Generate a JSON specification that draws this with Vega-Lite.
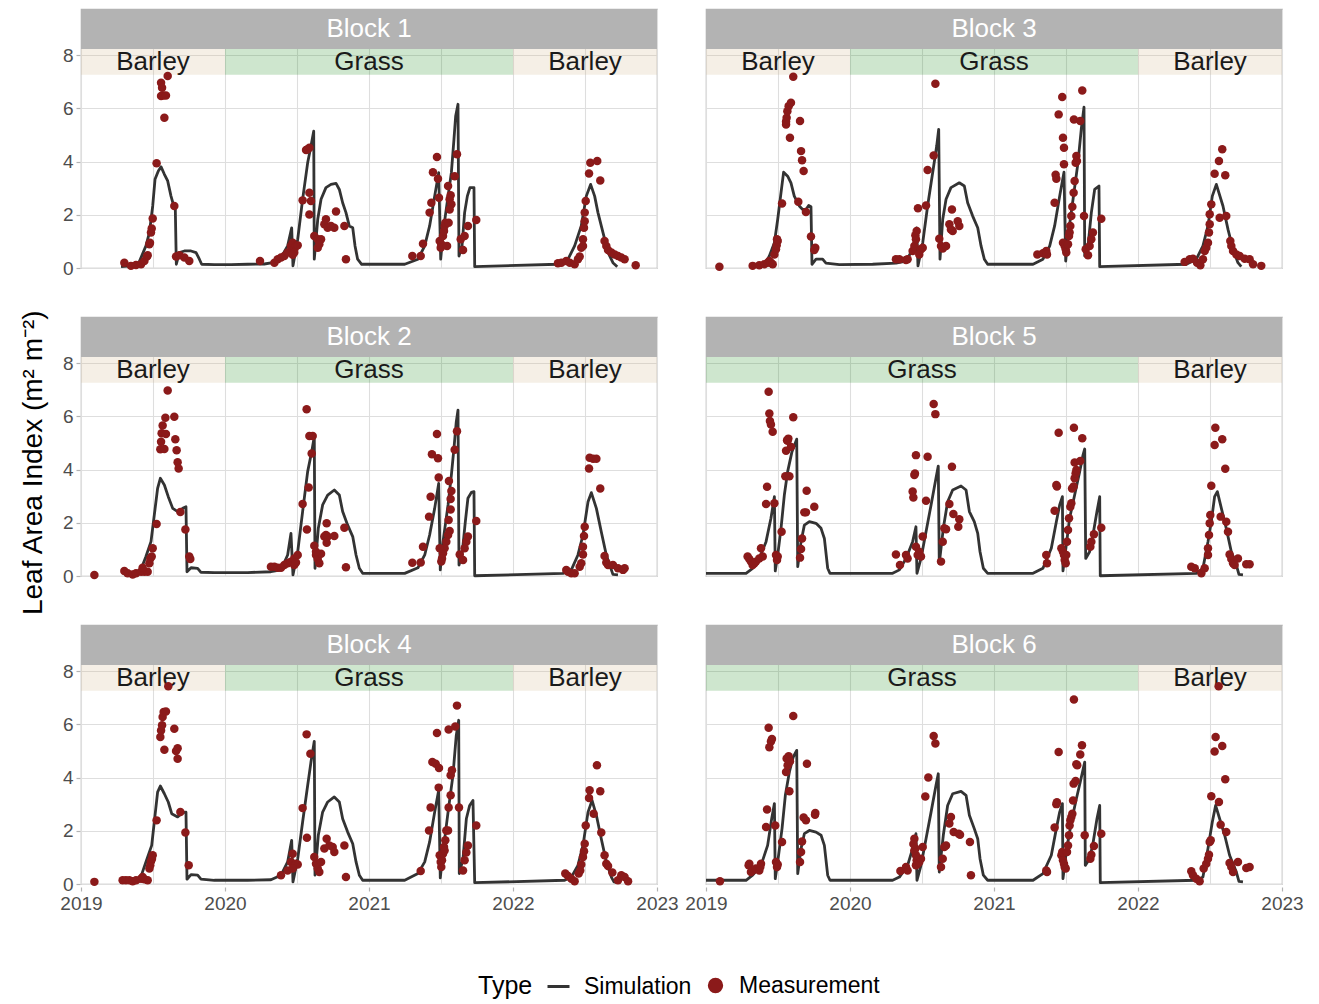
{
"$schema":"https://vega.github.io/schema/vega-lite/v6.json",
"padding":{"left":19,"top":8,"right":5,"bottom":5},
"background":"white",
"title":{"text":"Leaf Area Index (m² m⁻²)","orient":"left","anchor":"middle","dx":41,"fontSize":28,"fontWeight":"normal","font":"Liberation Sans","color":"#000000","offset":12},
"data":{"values":[
{"block":"Block 1","kind":"band","crop":"Barley","start":2019,"end":2020},
{"block":"Block 1","kind":"band","crop":"Grass","start":2020,"end":2022},
{"block":"Block 1","kind":"band","crop":"Barley","start":2022,"end":2023},
{"block":"Block 2","kind":"band","crop":"Barley","start":2019,"end":2020},
{"block":"Block 2","kind":"band","crop":"Grass","start":2020,"end":2022},
{"block":"Block 2","kind":"band","crop":"Barley","start":2022,"end":2023},
{"block":"Block 3","kind":"band","crop":"Barley","start":2019,"end":2020},
{"block":"Block 3","kind":"band","crop":"Grass","start":2020,"end":2022},
{"block":"Block 3","kind":"band","crop":"Barley","start":2022,"end":2023},
{"block":"Block 4","kind":"band","crop":"Barley","start":2019,"end":2020},
{"block":"Block 4","kind":"band","crop":"Grass","start":2020,"end":2022},
{"block":"Block 4","kind":"band","crop":"Barley","start":2022,"end":2023},
{"block":"Block 5","kind":"band","crop":"Grass","start":2019,"end":2022},
{"block":"Block 5","kind":"band","crop":"Barley","start":2022,"end":2023},
{"block":"Block 6","kind":"band","crop":"Grass","start":2019,"end":2022},
{"block":"Block 6","kind":"band","crop":"Barley","start":2022,"end":2023},
{"block":"Block 1","kind":"strip"},{"block":"Block 2","kind":"strip"},{"block":"Block 3","kind":"strip"},
{"block":"Block 4","kind":"strip"},{"block":"Block 5","kind":"strip"},{"block":"Block 6","kind":"strip"},

{"block":"Block 1","year":2019.278,"sim":0.05},{"block":"Block 1","year":2019.394,"sim":0.10},{"block":"Block 1","year":2019.451,"sim":0.83},{"block":"Block 1","year":2019.475,"sim":1.33},{"block":"Block 1","year":2019.498,"sim":2.33},{"block":"Block 1","year":2019.514,"sim":3.33},{"block":"Block 1","year":2019.537,"sim":3.64},{"block":"Block 1","year":2019.556,"sim":3.80},{"block":"Block 1","year":2019.579,"sim":3.52},{"block":"Block 1","year":2019.602,"sim":3.27},{"block":"Block 1","year":2019.625,"sim":2.70},{"block":"Block 1","year":2019.644,"sim":2.33},{"block":"Block 1","year":2019.655,"sim":2.20},{"block":"Block 1","year":2019.662,"sim":0.14},{"block":"Block 1","year":2019.683,"sim":0.58},{"block":"Block 1","year":2019.718,"sim":0.64},{"block":"Block 1","year":2019.764,"sim":0.64},{"block":"Block 1","year":2019.799,"sim":0.58},{"block":"Block 1","year":2019.822,"sim":0.33},{"block":"Block 1","year":2019.838,"sim":0.14},{"block":"Block 1","year":2019.926,"sim":0.13},{"block":"Block 1","year":2020.042,"sim":0.13},{"block":"Block 1","year":2020.157,"sim":0.14},{"block":"Block 1","year":2020.273,"sim":0.15},{"block":"Block 1","year":2020.331,"sim":0.20},{"block":"Block 1","year":2020.389,"sim":0.39},{"block":"Block 1","year":2020.435,"sim":0.83},{"block":"Block 1","year":2020.463,"sim":1.51},{"block":"Block 1","year":2020.472,"sim":0.08},{"block":"Block 1","year":2020.505,"sim":1.08},{"block":"Block 1","year":2020.539,"sim":2.58},{"block":"Block 1","year":2020.574,"sim":3.95},{"block":"Block 1","year":2020.597,"sim":4.58},{"block":"Block 1","year":2020.616,"sim":5.14},{"block":"Block 1","year":2020.620,"sim":0.33},{"block":"Block 1","year":2020.644,"sim":1.83},{"block":"Block 1","year":2020.667,"sim":2.58},{"block":"Block 1","year":2020.701,"sim":3.02},{"block":"Block 1","year":2020.736,"sim":3.14},{"block":"Block 1","year":2020.771,"sim":3.18},{"block":"Block 1","year":2020.794,"sim":2.95},{"block":"Block 1","year":2020.817,"sim":2.45},{"block":"Block 1","year":2020.840,"sim":2.08},{"block":"Block 1","year":2020.863,"sim":1.58},{"block":"Block 1","year":2020.887,"sim":1.51},{"block":"Block 1","year":2020.903,"sim":0.83},{"block":"Block 1","year":2020.921,"sim":0.33},{"block":"Block 1","year":2020.949,"sim":0.14},{"block":"Block 1","year":2021.109,"sim":0.14},{"block":"Block 1","year":2021.248,"sim":0.14},{"block":"Block 1","year":2021.340,"sim":0.33},{"block":"Block 1","year":2021.387,"sim":0.83},{"block":"Block 1","year":2021.421,"sim":1.58},{"block":"Block 1","year":2021.456,"sim":2.70},{"block":"Block 1","year":2021.484,"sim":3.58},{"block":"Block 1","year":2021.498,"sim":0.33},{"block":"Block 1","year":2021.514,"sim":1.33},{"block":"Block 1","year":2021.549,"sim":2.70},{"block":"Block 1","year":2021.572,"sim":3.58},{"block":"Block 1","year":2021.590,"sim":4.83},{"block":"Block 1","year":2021.602,"sim":5.71},{"block":"Block 1","year":2021.618,"sim":6.15},{"block":"Block 1","year":2021.625,"sim":0.45},{"block":"Block 1","year":2021.646,"sim":0.83},{"block":"Block 1","year":2021.664,"sim":2.08},{"block":"Block 1","year":2021.683,"sim":2.70},{"block":"Block 1","year":2021.701,"sim":3.02},{"block":"Block 1","year":2021.729,"sim":3.02},{"block":"Block 1","year":2021.734,"sim":0.05},{"block":"Block 1","year":2022.312,"sim":0.14},{"block":"Block 1","year":2022.382,"sim":0.33},{"block":"Block 1","year":2022.428,"sim":0.83},{"block":"Block 1","year":2022.474,"sim":1.58},{"block":"Block 1","year":2022.509,"sim":2.70},{"block":"Block 1","year":2022.539,"sim":3.14},{"block":"Block 1","year":2022.567,"sim":2.70},{"block":"Block 1","year":2022.590,"sim":2.08},{"block":"Block 1","year":2022.625,"sim":1.33},{"block":"Block 1","year":2022.660,"sim":0.58},{"block":"Block 1","year":2022.694,"sim":0.20},{"block":"Block 1","year":2022.724,"sim":0.05},

{"block":"Block 1","year":2019.301,"obs":0.2},{"block":"Block 1","year":2019.347,"obs":0.08},{"block":"Block 1","year":2019.382,"obs":0.11},{"block":"Block 1","year":2019.417,"obs":0.14},{"block":"Block 1","year":2019.44,"obs":0.26},{"block":"Block 1","year":2019.458,"obs":0.43},{"block":"Block 1","year":2019.463,"obs":0.48},{"block":"Block 1","year":2019.475,"obs":0.89},{"block":"Block 1","year":2019.479,"obs":0.95},{"block":"Block 1","year":2019.486,"obs":1.33},{"block":"Block 1","year":2019.491,"obs":1.48},{"block":"Block 1","year":2019.498,"obs":1.86},{"block":"Block 1","year":2019.525,"obs":3.93},{"block":"Block 1","year":2019.556,"obs":6.46},{"block":"Block 1","year":2019.556,"obs":6.96},{"block":"Block 1","year":2019.563,"obs":6.77},{"block":"Block 1","year":2019.572,"obs":6.48},{"block":"Block 1","year":2019.59,"obs":6.48},{"block":"Block 1","year":2019.579,"obs":5.64},{"block":"Block 1","year":2019.602,"obs":7.21},{"block":"Block 1","year":2019.648,"obs":2.33},{"block":"Block 1","year":2019.66,"obs":0.43},{"block":"Block 1","year":2019.683,"obs":0.48},{"block":"Block 1","year":2019.718,"obs":0.39},{"block":"Block 1","year":2019.752,"obs":0.26},
{"block":"Block 1","year":2020.243,"obs":0.26},{"block":"Block 1","year":2020.343,"obs":0.2},{"block":"Block 1","year":2020.366,"obs":0.33},{"block":"Block 1","year":2020.389,"obs":0.39},{"block":"Block 1","year":2020.412,"obs":0.45},{"block":"Block 1","year":2020.435,"obs":0.58},{"block":"Block 1","year":2020.458,"obs":0.83},{"block":"Block 1","year":2020.47,"obs":0.95},{"block":"Block 1","year":2020.481,"obs":0.7},{"block":"Block 1","year":2020.493,"obs":0.83},{"block":"Block 1","year":2020.505,"obs":0.85},{"block":"Block 1","year":2020.481,"obs":0.58},{"block":"Block 1","year":2020.47,"obs":0.5},{"block":"Block 1","year":2020.563,"obs":4.43},{"block":"Block 1","year":2020.586,"obs":4.52},{"block":"Block 1","year":2020.574,"obs":4.46},{"block":"Block 1","year":2020.539,"obs":2.54},{"block":"Block 1","year":2020.586,"obs":2.83},{"block":"Block 1","year":2020.597,"obs":2.52},{"block":"Block 1","year":2020.586,"obs":2.01},{"block":"Block 1","year":2020.62,"obs":1.2},{"block":"Block 1","year":2020.644,"obs":1.08},{"block":"Block 1","year":2020.667,"obs":1.08},{"block":"Block 1","year":2020.644,"obs":0.76},{"block":"Block 1","year":2020.655,"obs":0.89},{"block":"Block 1","year":2020.701,"obs":1.83},{"block":"Block 1","year":2020.69,"obs":1.64},{"block":"Block 1","year":2020.713,"obs":1.51},{"block":"Block 1","year":2020.759,"obs":1.51},{"block":"Block 1","year":2020.736,"obs":1.58},{"block":"Block 1","year":2020.771,"obs":2.12},{"block":"Block 1","year":2020.829,"obs":1.58},{"block":"Block 1","year":2020.84,"obs":0.33},
{"block":"Block 1","year":2021.301,"obs":0.45},{"block":"Block 1","year":2021.359,"obs":0.45},{"block":"Block 1","year":2021.375,"obs":0.91},{"block":"Block 1","year":2021.421,"obs":2.08},{"block":"Block 1","year":2021.433,"obs":2.45},{"block":"Block 1","year":2021.444,"obs":3.6},{"block":"Block 1","year":2021.472,"obs":4.17},{"block":"Block 1","year":2021.479,"obs":3.35},{"block":"Block 1","year":2021.486,"obs":2.64},{"block":"Block 1","year":2021.491,"obs":1.01},{"block":"Block 1","year":2021.502,"obs":0.89},{"block":"Block 1","year":2021.498,"obs":0.76},{"block":"Block 1","year":2021.514,"obs":1.2},{"block":"Block 1","year":2021.521,"obs":1.39},{"block":"Block 1","year":2021.525,"obs":1.58},{"block":"Block 1","year":2021.53,"obs":1.7},{"block":"Block 1","year":2021.549,"obs":3.08},{"block":"Block 1","year":2021.56,"obs":2.58},{"block":"Block 1","year":2021.567,"obs":2.73},{"block":"Block 1","year":2021.572,"obs":2.39},{"block":"Block 1","year":2021.56,"obs":2.2},{"block":"Block 1","year":2021.553,"obs":1.7},{"block":"Block 1","year":2021.542,"obs":0.83},{"block":"Block 1","year":2021.595,"obs":3.45},{"block":"Block 1","year":2021.611,"obs":4.27},{"block":"Block 1","year":2021.637,"obs":1.08},{"block":"Block 1","year":2021.653,"obs":0.68},{"block":"Block 1","year":2021.664,"obs":1.2},{"block":"Block 1","year":2021.687,"obs":1.58},{"block":"Block 1","year":2021.745,"obs":1.8},
{"block":"Block 1","year":2022.312,"obs":0.18},{"block":"Block 1","year":2022.336,"obs":0.2},{"block":"Block 1","year":2022.37,"obs":0.26},{"block":"Block 1","year":2022.394,"obs":0.2},{"block":"Block 1","year":2022.428,"obs":0.14},{"block":"Block 1","year":2022.451,"obs":0.33},{"block":"Block 1","year":2022.463,"obs":0.43},{"block":"Block 1","year":2022.474,"obs":0.76},{"block":"Block 1","year":2022.486,"obs":1.08},{"block":"Block 1","year":2022.486,"obs":0.83},{"block":"Block 1","year":2022.493,"obs":1.51},{"block":"Block 1","year":2022.498,"obs":1.76},{"block":"Block 1","year":2022.498,"obs":2.08},{"block":"Block 1","year":2022.505,"obs":2.52},{"block":"Block 1","year":2022.528,"obs":3.55},{"block":"Block 1","year":2022.537,"obs":3.95},{"block":"Block 1","year":2022.585,"obs":4.02},{"block":"Block 1","year":2022.606,"obs":3.29},{"block":"Block 1","year":2022.636,"obs":1.01},{"block":"Block 1","year":2022.648,"obs":0.83},{"block":"Block 1","year":2022.66,"obs":0.68},{"block":"Block 1","year":2022.683,"obs":0.58},{"block":"Block 1","year":2022.706,"obs":0.51},{"block":"Block 1","year":2022.729,"obs":0.45},{"block":"Block 1","year":2022.752,"obs":0.39},{"block":"Block 1","year":2022.775,"obs":0.33},{"block":"Block 1","year":2022.852,"obs":0.1},

{"block":"Block 3","year":2019.301,"sim":0.05},{"block":"Block 3","year":2019.405,"sim":0.10},{"block":"Block 3","year":2019.440,"sim":0.45},{"block":"Block 3","year":2019.475,"sim":0.95},{"block":"Block 3","year":2019.498,"sim":1.83},{"block":"Block 3","year":2019.521,"sim":2.83},{"block":"Block 3","year":2019.539,"sim":3.60},{"block":"Block 3","year":2019.567,"sim":3.45},{"block":"Block 3","year":2019.590,"sim":3.20},{"block":"Block 3","year":2019.613,"sim":2.70},{"block":"Block 3","year":2019.648,"sim":2.33},{"block":"Block 3","year":2019.671,"sim":2.20},{"block":"Block 3","year":2019.694,"sim":2.20},{"block":"Block 3","year":2019.713,"sim":2.35},{"block":"Block 3","year":2019.729,"sim":2.30},{"block":"Block 3","year":2019.736,"sim":0.14},{"block":"Block 3","year":2019.764,"sim":0.33},{"block":"Block 3","year":2019.810,"sim":0.33},{"block":"Block 3","year":2019.833,"sim":0.18},{"block":"Block 3","year":2019.926,"sim":0.13},{"block":"Block 3","year":2020.157,"sim":0.14},{"block":"Block 3","year":2020.319,"sim":0.18},{"block":"Block 3","year":2020.389,"sim":0.26},{"block":"Block 3","year":2020.435,"sim":0.70},{"block":"Block 3","year":2020.463,"sim":1.51},{"block":"Block 3","year":2020.472,"sim":0.08},{"block":"Block 3","year":2020.505,"sim":0.95},{"block":"Block 3","year":2020.539,"sim":2.33},{"block":"Block 3","year":2020.574,"sim":3.58},{"block":"Block 3","year":2020.602,"sim":4.58},{"block":"Block 3","year":2020.616,"sim":5.21},{"block":"Block 3","year":2020.625,"sim":0.33},{"block":"Block 3","year":2020.644,"sim":1.83},{"block":"Block 3","year":2020.667,"sim":2.58},{"block":"Block 3","year":2020.701,"sim":3.02},{"block":"Block 3","year":2020.759,"sim":3.20},{"block":"Block 3","year":2020.794,"sim":3.08},{"block":"Block 3","year":2020.817,"sim":2.45},{"block":"Block 3","year":2020.852,"sim":1.95},{"block":"Block 3","year":2020.887,"sim":1.51},{"block":"Block 3","year":2020.910,"sim":0.83},{"block":"Block 3","year":2020.933,"sim":0.33},{"block":"Block 3","year":2020.956,"sim":0.14},{"block":"Block 3","year":2021.109,"sim":0.14},{"block":"Block 3","year":2021.271,"sim":0.14},{"block":"Block 3","year":2021.340,"sim":0.33},{"block":"Block 3","year":2021.387,"sim":0.83},{"block":"Block 3","year":2021.421,"sim":1.58},{"block":"Block 3","year":2021.456,"sim":2.70},{"block":"Block 3","year":2021.486,"sim":3.60},{"block":"Block 3","year":2021.498,"sim":0.26},{"block":"Block 3","year":2021.514,"sim":1.20},{"block":"Block 3","year":2021.549,"sim":2.58},{"block":"Block 3","year":2021.583,"sim":3.95},{"block":"Block 3","year":2021.606,"sim":5.21},{"block":"Block 3","year":2021.625,"sim":6.04},{"block":"Block 3","year":2021.630,"sim":0.45},{"block":"Block 3","year":2021.653,"sim":0.83},{"block":"Block 3","year":2021.676,"sim":2.08},{"block":"Block 3","year":2021.699,"sim":2.95},{"block":"Block 3","year":2021.729,"sim":3.08},{"block":"Block 3","year":2021.734,"sim":0.05},{"block":"Block 3","year":2022.336,"sim":0.14},{"block":"Block 3","year":2022.405,"sim":0.33},{"block":"Block 3","year":2022.451,"sim":0.83},{"block":"Block 3","year":2022.486,"sim":1.58},{"block":"Block 3","year":2022.516,"sim":2.70},{"block":"Block 3","year":2022.544,"sim":3.14},{"block":"Block 3","year":2022.590,"sim":2.33},{"block":"Block 3","year":2022.625,"sim":1.45},{"block":"Block 3","year":2022.660,"sim":0.70},{"block":"Block 3","year":2022.694,"sim":0.20},{"block":"Block 3","year":2022.717,"sim":0.05},

{"block":"Block 3","year":2019.093,"obs":0.05},{"block":"Block 3","year":2019.324,"obs":0.08},{"block":"Block 3","year":2019.37,"obs":0.1},{"block":"Block 3","year":2019.405,"obs":0.14},{"block":"Block 3","year":2019.428,"obs":0.2},{"block":"Block 3","year":2019.44,"obs":0.26},{"block":"Block 3","year":2019.451,"obs":0.2},{"block":"Block 3","year":2019.463,"obs":0.14},{"block":"Block 3","year":2019.475,"obs":0.51},{"block":"Block 3","year":2019.486,"obs":0.7},{"block":"Block 3","year":2019.491,"obs":0.85},{"block":"Block 3","year":2019.498,"obs":1.01},{"block":"Block 3","year":2019.493,"obs":1.08},{"block":"Block 3","year":2019.528,"obs":2.42},{"block":"Block 3","year":2019.556,"obs":5.39},{"block":"Block 3","year":2019.56,"obs":5.64},{"block":"Block 3","year":2019.565,"obs":5.89},{"block":"Block 3","year":2019.574,"obs":6.08},{"block":"Block 3","year":2019.59,"obs":6.21},{"block":"Block 3","year":2019.556,"obs":5.5},{"block":"Block 3","year":2019.583,"obs":4.89},{"block":"Block 3","year":2019.606,"obs":7.18},{"block":"Block 3","year":2019.653,"obs":5.52},{"block":"Block 3","year":2019.66,"obs":4.39},{"block":"Block 3","year":2019.667,"obs":4.05},{"block":"Block 3","year":2019.678,"obs":3.64},{"block":"Block 3","year":2019.641,"obs":2.49},{"block":"Block 3","year":2019.694,"obs":2.1},{"block":"Block 3","year":2019.729,"obs":1.18},{"block":"Block 3","year":2019.759,"obs":0.76},{"block":"Block 3","year":2019.752,"obs":0.68},
{"block":"Block 3","year":2020.319,"obs":0.33},{"block":"Block 3","year":2020.343,"obs":0.33},{"block":"Block 3","year":2020.389,"obs":0.3},{"block":"Block 3","year":2020.4,"obs":0.33},{"block":"Block 3","year":2020.435,"obs":0.64},{"block":"Block 3","year":2020.447,"obs":0.83},{"block":"Block 3","year":2020.458,"obs":1.08},{"block":"Block 3","year":2020.463,"obs":1.39},{"block":"Block 3","year":2020.454,"obs":1.23},{"block":"Block 3","year":2020.472,"obs":2.24},{"block":"Block 3","year":2020.493,"obs":0.7},{"block":"Block 3","year":2020.481,"obs":0.51},{"block":"Block 3","year":2020.505,"obs":0.76},{"block":"Block 3","year":2020.528,"obs":2.35},{"block":"Block 3","year":2020.539,"obs":3.68},{"block":"Block 3","year":2020.581,"obs":4.23},{"block":"Block 3","year":2020.593,"obs":6.92},{"block":"Block 3","year":2020.62,"obs":1.1},{"block":"Block 3","year":2020.632,"obs":0.83},{"block":"Block 3","year":2020.644,"obs":0.73},{"block":"Block 3","year":2020.667,"obs":0.83},{"block":"Block 3","year":2020.69,"obs":1.64},{"block":"Block 3","year":2020.708,"obs":2.2},{"block":"Block 3","year":2020.713,"obs":1.39},{"block":"Block 3","year":2020.759,"obs":1.58},{"block":"Block 3","year":2020.748,"obs":1.76},{"block":"Block 3","year":2020.701,"obs":1.45},
{"block":"Block 3","year":2021.301,"obs":0.51},{"block":"Block 3","year":2021.34,"obs":0.55},{"block":"Block 3","year":2021.363,"obs":0.64},{"block":"Block 3","year":2021.368,"obs":0.51},{"block":"Block 3","year":2021.421,"obs":2.45},{"block":"Block 3","year":2021.428,"obs":3.5},{"block":"Block 3","year":2021.433,"obs":3.35},{"block":"Block 3","year":2021.449,"obs":5.77},{"block":"Block 3","year":2021.474,"obs":6.42},{"block":"Block 3","year":2021.479,"obs":4.89},{"block":"Block 3","year":2021.486,"obs":4.52},{"block":"Block 3","year":2021.486,"obs":3.9},{"block":"Block 3","year":2021.479,"obs":0.95},{"block":"Block 3","year":2021.491,"obs":0.83},{"block":"Block 3","year":2021.498,"obs":0.7},{"block":"Block 3","year":2021.502,"obs":0.58},{"block":"Block 3","year":2021.514,"obs":0.89},{"block":"Block 3","year":2021.521,"obs":1.2},{"block":"Block 3","year":2021.525,"obs":1.33},{"block":"Block 3","year":2021.53,"obs":1.58},{"block":"Block 3","year":2021.537,"obs":1.95},{"block":"Block 3","year":2021.544,"obs":2.3},{"block":"Block 3","year":2021.553,"obs":2.83},{"block":"Block 3","year":2021.56,"obs":3.27},{"block":"Block 3","year":2021.567,"obs":3.95},{"block":"Block 3","year":2021.572,"obs":4.21},{"block":"Block 3","year":2021.576,"obs":4.02},{"block":"Block 3","year":2021.555,"obs":5.58},{"block":"Block 3","year":2021.599,"obs":5.52},{"block":"Block 3","year":2021.613,"obs":6.67},{"block":"Block 3","year":2021.625,"obs":1.95},{"block":"Block 3","year":2021.637,"obs":0.7},{"block":"Block 3","year":2021.653,"obs":0.48},{"block":"Block 3","year":2021.664,"obs":0.83},{"block":"Block 3","year":2021.676,"obs":1.08},{"block":"Block 3","year":2021.687,"obs":1.33},{"block":"Block 3","year":2021.745,"obs":1.85},
{"block":"Block 3","year":2022.324,"obs":0.23},{"block":"Block 3","year":2022.359,"obs":0.33},{"block":"Block 3","year":2022.382,"obs":0.35},{"block":"Block 3","year":2022.41,"obs":0.2},{"block":"Block 3","year":2022.433,"obs":0.1},{"block":"Block 3","year":2022.451,"obs":0.33},{"block":"Block 3","year":2022.463,"obs":0.64},{"block":"Block 3","year":2022.474,"obs":0.76},{"block":"Block 3","year":2022.486,"obs":0.95},{"block":"Block 3","year":2022.493,"obs":1.33},{"block":"Block 3","year":2022.498,"obs":1.64},{"block":"Block 3","year":2022.498,"obs":2.02},{"block":"Block 3","year":2022.509,"obs":2.39},{"block":"Block 3","year":2022.532,"obs":3.54},{"block":"Block 3","year":2022.562,"obs":4.02},{"block":"Block 3","year":2022.585,"obs":4.46},{"block":"Block 3","year":2022.606,"obs":3.48},{"block":"Block 3","year":2022.567,"obs":1.89},{"block":"Block 3","year":2022.613,"obs":1.95},{"block":"Block 3","year":2022.641,"obs":1.01},{"block":"Block 3","year":2022.648,"obs":0.83},{"block":"Block 3","year":2022.66,"obs":0.64},{"block":"Block 3","year":2022.683,"obs":0.51},{"block":"Block 3","year":2022.706,"obs":0.45},{"block":"Block 3","year":2022.741,"obs":0.35},{"block":"Block 3","year":2022.775,"obs":0.33},{"block":"Block 3","year":2022.799,"obs":0.14},{"block":"Block 3","year":2022.856,"obs":0.08},

{"block":"Block 2","year":2019.301,"sim":0.04},{"block":"Block 2","year":2019.405,"sim":0.08},{"block":"Block 2","year":2019.451,"sim":0.73},{"block":"Block 2","year":2019.486,"sim":1.29},{"block":"Block 2","year":2019.509,"sim":2.29},{"block":"Block 2","year":2019.532,"sim":3.29},{"block":"Block 2","year":2019.551,"sim":3.67},{"block":"Block 2","year":2019.579,"sim":3.42},{"block":"Block 2","year":2019.606,"sim":2.98},{"block":"Block 2","year":2019.637,"sim":2.54},{"block":"Block 2","year":2019.671,"sim":2.42},{"block":"Block 2","year":2019.706,"sim":2.54},{"block":"Block 2","year":2019.729,"sim":2.60},{"block":"Block 2","year":2019.736,"sim":0.16},{"block":"Block 2","year":2019.764,"sim":0.31},{"block":"Block 2","year":2019.810,"sim":0.29},{"block":"Block 2","year":2019.833,"sim":0.14},{"block":"Block 2","year":2019.926,"sim":0.13},{"block":"Block 2","year":2020.157,"sim":0.13},{"block":"Block 2","year":2020.319,"sim":0.16},{"block":"Block 2","year":2020.389,"sim":0.23},{"block":"Block 2","year":2020.435,"sim":0.79},{"block":"Block 2","year":2020.458,"sim":1.60},{"block":"Block 2","year":2020.472,"sim":0.04},{"block":"Block 2","year":2020.505,"sim":0.91},{"block":"Block 2","year":2020.539,"sim":2.42},{"block":"Block 2","year":2020.574,"sim":3.92},{"block":"Block 2","year":2020.602,"sim":4.67},{"block":"Block 2","year":2020.620,"sim":5.23},{"block":"Block 2","year":2020.625,"sim":0.29},{"block":"Block 2","year":2020.648,"sim":1.79},{"block":"Block 2","year":2020.678,"sim":2.67},{"block":"Block 2","year":2020.713,"sim":3.04},{"block":"Block 2","year":2020.759,"sim":3.23},{"block":"Block 2","year":2020.794,"sim":3.04},{"block":"Block 2","year":2020.817,"sim":2.42},{"block":"Block 2","year":2020.852,"sim":1.91},{"block":"Block 2","year":2020.887,"sim":1.48},{"block":"Block 2","year":2020.910,"sim":0.79},{"block":"Block 2","year":2020.933,"sim":0.29},{"block":"Block 2","year":2020.956,"sim":0.10},{"block":"Block 2","year":2021.109,"sim":0.10},{"block":"Block 2","year":2021.248,"sim":0.10},{"block":"Block 2","year":2021.340,"sim":0.31},{"block":"Block 2","year":2021.387,"sim":0.79},{"block":"Block 2","year":2021.421,"sim":1.54},{"block":"Block 2","year":2021.456,"sim":2.54},{"block":"Block 2","year":2021.484,"sim":3.48},{"block":"Block 2","year":2021.495,"sim":0.23},{"block":"Block 2","year":2021.514,"sim":1.29},{"block":"Block 2","year":2021.549,"sim":2.67},{"block":"Block 2","year":2021.572,"sim":3.79},{"block":"Block 2","year":2021.590,"sim":4.79},{"block":"Block 2","year":2021.606,"sim":5.79},{"block":"Block 2","year":2021.618,"sim":6.23},{"block":"Block 2","year":2021.625,"sim":0.41},{"block":"Block 2","year":2021.646,"sim":0.79},{"block":"Block 2","year":2021.669,"sim":2.04},{"block":"Block 2","year":2021.687,"sim":2.92},{"block":"Block 2","year":2021.711,"sim":3.14},{"block":"Block 2","year":2021.729,"sim":3.17},{"block":"Block 2","year":2021.734,"sim":0.01},{"block":"Block 2","year":2022.347,"sim":0.10},{"block":"Block 2","year":2022.405,"sim":0.23},{"block":"Block 2","year":2022.451,"sim":0.79},{"block":"Block 2","year":2022.486,"sim":1.54},{"block":"Block 2","year":2022.521,"sim":2.79},{"block":"Block 2","year":2022.544,"sim":3.13},{"block":"Block 2","year":2022.579,"sim":2.54},{"block":"Block 2","year":2022.613,"sim":1.66},{"block":"Block 2","year":2022.648,"sim":0.79},{"block":"Block 2","year":2022.683,"sim":0.23},{"block":"Block 2","year":2022.694,"sim":0.06},{"block":"Block 2","year":2022.729,"sim":0.04},

{"block":"Block 2","year":2019.093,"obs":0.04},{"block":"Block 2","year":2019.301,"obs":0.19},{"block":"Block 2","year":2019.324,"obs":0.1},{"block":"Block 2","year":2019.359,"obs":0.06},{"block":"Block 2","year":2019.382,"obs":0.1},{"block":"Block 2","year":2019.417,"obs":0.16},{"block":"Block 2","year":2019.44,"obs":0.16},{"block":"Block 2","year":2019.463,"obs":0.16},{"block":"Block 2","year":2019.428,"obs":0.31},{"block":"Block 2","year":2019.475,"obs":0.48},{"block":"Block 2","year":2019.481,"obs":0.66},{"block":"Block 2","year":2019.491,"obs":0.73},{"block":"Block 2","year":2019.498,"obs":1.04},{"block":"Block 2","year":2019.525,"obs":1.95},{"block":"Block 2","year":2019.551,"obs":4.76},{"block":"Block 2","year":2019.556,"obs":5.04},{"block":"Block 2","year":2019.56,"obs":5.36},{"block":"Block 2","year":2019.567,"obs":5.65},{"block":"Block 2","year":2019.579,"obs":4.77},{"block":"Block 2","year":2019.59,"obs":5.33},{"block":"Block 2","year":2019.586,"obs":5.94},{"block":"Block 2","year":2019.602,"obs":6.97},{"block":"Block 2","year":2019.648,"obs":5.98},{"block":"Block 2","year":2019.655,"obs":5.14},{"block":"Block 2","year":2019.664,"obs":4.72},{"block":"Block 2","year":2019.671,"obs":4.27},{"block":"Block 2","year":2019.678,"obs":4.04},{"block":"Block 2","year":2019.69,"obs":2.4},{"block":"Block 2","year":2019.725,"obs":1.75},{"block":"Block 2","year":2019.752,"obs":0.73},{"block":"Block 2","year":2019.759,"obs":0.64},
{"block":"Block 2","year":2020.319,"obs":0.35},{"block":"Block 2","year":2020.343,"obs":0.35},{"block":"Block 2","year":2020.366,"obs":0.31},{"block":"Block 2","year":2020.389,"obs":0.31},{"block":"Block 2","year":2020.412,"obs":0.41},{"block":"Block 2","year":2020.435,"obs":0.48},{"block":"Block 2","year":2020.458,"obs":0.54},{"block":"Block 2","year":2020.481,"obs":0.66},{"block":"Block 2","year":2020.505,"obs":0.79},{"block":"Block 2","year":2020.481,"obs":0.41},{"block":"Block 2","year":2020.493,"obs":0.51},{"block":"Block 2","year":2020.539,"obs":2.7},{"block":"Block 2","year":2020.567,"obs":6.26},{"block":"Block 2","year":2020.586,"obs":5.26},{"block":"Block 2","year":2020.609,"obs":5.26},{"block":"Block 2","year":2020.602,"obs":4.6},{"block":"Block 2","year":2020.581,"obs":3.32},{"block":"Block 2","year":2020.569,"obs":1.75},{"block":"Block 2","year":2020.62,"obs":1.14},{"block":"Block 2","year":2020.632,"obs":0.79},{"block":"Block 2","year":2020.644,"obs":0.64},{"block":"Block 2","year":2020.655,"obs":0.48},{"block":"Block 2","year":2020.667,"obs":0.84},{"block":"Block 2","year":2020.632,"obs":0.91},{"block":"Block 2","year":2020.706,"obs":1.98},{"block":"Block 2","year":2020.701,"obs":1.54},{"block":"Block 2","year":2020.69,"obs":1.48},{"block":"Block 2","year":2020.713,"obs":1.48},{"block":"Block 2","year":2020.759,"obs":1.5},{"block":"Block 2","year":2020.706,"obs":1.25},{"block":"Block 2","year":2020.829,"obs":1.81},{"block":"Block 2","year":2020.84,"obs":0.33},
{"block":"Block 2","year":2021.301,"obs":0.5},{"block":"Block 2","year":2021.359,"obs":0.51},{"block":"Block 2","year":2021.375,"obs":1.1},{"block":"Block 2","year":2021.417,"obs":2.23},{"block":"Block 2","year":2021.428,"obs":2.98},{"block":"Block 2","year":2021.437,"obs":4.57},{"block":"Block 2","year":2021.479,"obs":4.42},{"block":"Block 2","year":2021.472,"obs":5.33},{"block":"Block 2","year":2021.484,"obs":3.7},{"block":"Block 2","year":2021.555,"obs":3.57},{"block":"Block 2","year":2021.567,"obs":2.89},{"block":"Block 2","year":2021.572,"obs":3.19},{"block":"Block 2","year":2021.567,"obs":2.5},{"block":"Block 2","year":2021.553,"obs":2.1},{"block":"Block 2","year":2021.56,"obs":1.69},{"block":"Block 2","year":2021.549,"obs":1.54},{"block":"Block 2","year":2021.537,"obs":1.29},{"block":"Block 2","year":2021.525,"obs":1.04},{"block":"Block 2","year":2021.514,"obs":0.85},{"block":"Block 2","year":2021.507,"obs":0.66},{"block":"Block 2","year":2021.502,"obs":0.54},{"block":"Block 2","year":2021.491,"obs":1.04},{"block":"Block 2","year":2021.595,"obs":4.74},{"block":"Block 2","year":2021.611,"obs":5.44},{"block":"Block 2","year":2021.63,"obs":0.81},{"block":"Block 2","year":2021.653,"obs":0.6},{"block":"Block 2","year":2021.664,"obs":1.04},{"block":"Block 2","year":2021.676,"obs":1.29},{"block":"Block 2","year":2021.687,"obs":1.48},{"block":"Block 2","year":2021.745,"obs":2.07},
{"block":"Block 2","year":2022.37,"obs":0.23},{"block":"Block 2","year":2022.382,"obs":0.16},{"block":"Block 2","year":2022.405,"obs":0.1},{"block":"Block 2","year":2022.428,"obs":0.1},{"block":"Block 2","year":2022.463,"obs":0.35},{"block":"Block 2","year":2022.474,"obs":0.48},{"block":"Block 2","year":2022.486,"obs":0.81},{"block":"Block 2","year":2022.486,"obs":1.1},{"block":"Block 2","year":2022.493,"obs":1.5},{"block":"Block 2","year":2022.498,"obs":1.85},{"block":"Block 2","year":2022.528,"obs":4.04},{"block":"Block 2","year":2022.532,"obs":4.44},{"block":"Block 2","year":2022.556,"obs":4.4},{"block":"Block 2","year":2022.579,"obs":4.4},{"block":"Block 2","year":2022.606,"obs":3.29},{"block":"Block 2","year":2022.636,"obs":0.75},{"block":"Block 2","year":2022.648,"obs":0.51},{"block":"Block 2","year":2022.66,"obs":0.41},{"block":"Block 2","year":2022.694,"obs":0.41},{"block":"Block 2","year":2022.729,"obs":0.29},{"block":"Block 2","year":2022.764,"obs":0.23},{"block":"Block 2","year":2022.775,"obs":0.29},

{"block":"Block 5","year":2019.0,"sim":0.10},{"block":"Block 5","year":2019.278,"sim":0.10},{"block":"Block 5","year":2019.324,"sim":0.29},{"block":"Block 5","year":2019.370,"sim":0.66},{"block":"Block 5","year":2019.417,"sim":1.29},{"block":"Block 5","year":2019.451,"sim":2.17},{"block":"Block 5","year":2019.475,"sim":2.98},{"block":"Block 5","year":2019.481,"sim":0.19},{"block":"Block 5","year":2019.498,"sim":0.79},{"block":"Block 5","year":2019.521,"sim":1.79},{"block":"Block 5","year":2019.544,"sim":3.04},{"block":"Block 5","year":2019.567,"sim":3.92},{"block":"Block 5","year":2019.597,"sim":4.67},{"block":"Block 5","year":2019.630,"sim":5.14},{"block":"Block 5","year":2019.637,"sim":0.35},{"block":"Block 5","year":2019.660,"sim":1.29},{"block":"Block 5","year":2019.683,"sim":1.91},{"block":"Block 5","year":2019.718,"sim":2.04},{"block":"Block 5","year":2019.764,"sim":1.98},{"block":"Block 5","year":2019.799,"sim":1.79},{"block":"Block 5","year":2019.822,"sim":1.41},{"block":"Block 5","year":2019.845,"sim":0.29},{"block":"Block 5","year":2019.861,"sim":0.10},{"block":"Block 5","year":2020.042,"sim":0.10},{"block":"Block 5","year":2020.296,"sim":0.10},{"block":"Block 5","year":2020.343,"sim":0.23},{"block":"Block 5","year":2020.389,"sim":0.66},{"block":"Block 5","year":2020.435,"sim":1.29},{"block":"Block 5","year":2020.458,"sim":1.85},{"block":"Block 5","year":2020.465,"sim":0.10},{"block":"Block 5","year":2020.493,"sim":0.66},{"block":"Block 5","year":2020.528,"sim":1.66},{"block":"Block 5","year":2020.563,"sim":2.67},{"block":"Block 5","year":2020.597,"sim":3.67},{"block":"Block 5","year":2020.613,"sim":4.13},{"block":"Block 5","year":2020.620,"sim":0.48},{"block":"Block 5","year":2020.648,"sim":1.79},{"block":"Block 5","year":2020.678,"sim":2.79},{"block":"Block 5","year":2020.713,"sim":3.23},{"block":"Block 5","year":2020.771,"sim":3.38},{"block":"Block 5","year":2020.806,"sim":3.23},{"block":"Block 5","year":2020.829,"sim":2.42},{"block":"Block 5","year":2020.863,"sim":2.04},{"block":"Block 5","year":2020.887,"sim":1.60},{"block":"Block 5","year":2020.903,"sim":0.91},{"block":"Block 5","year":2020.926,"sim":0.29},{"block":"Block 5","year":2020.956,"sim":0.10},{"block":"Block 5","year":2021.109,"sim":0.10},{"block":"Block 5","year":2021.271,"sim":0.10},{"block":"Block 5","year":2021.340,"sim":0.29},{"block":"Block 5","year":2021.398,"sim":1.04},{"block":"Block 5","year":2021.433,"sim":2.04},{"block":"Block 5","year":2021.456,"sim":2.67},{"block":"Block 5","year":2021.475,"sim":2.98},{"block":"Block 5","year":2021.479,"sim":0.19},{"block":"Block 5","year":2021.502,"sim":1.16},{"block":"Block 5","year":2021.525,"sim":2.17},{"block":"Block 5","year":2021.560,"sim":3.04},{"block":"Block 5","year":2021.595,"sim":3.92},{"block":"Block 5","year":2021.618,"sim":4.54},{"block":"Block 5","year":2021.630,"sim":4.77},{"block":"Block 5","year":2021.637,"sim":0.66},{"block":"Block 5","year":2021.664,"sim":0.91},{"block":"Block 5","year":2021.687,"sim":1.54},{"block":"Block 5","year":2021.715,"sim":2.42},{"block":"Block 5","year":2021.734,"sim":2.98},{"block":"Block 5","year":2021.738,"sim":0.01},{"block":"Block 5","year":2022.405,"sim":0.10},{"block":"Block 5","year":2022.451,"sim":0.29},{"block":"Block 5","year":2022.486,"sim":1.29},{"block":"Block 5","year":2022.509,"sim":2.04},{"block":"Block 5","year":2022.532,"sim":2.98},{"block":"Block 5","year":2022.551,"sim":3.17},{"block":"Block 5","year":2022.579,"sim":2.54},{"block":"Block 5","year":2022.613,"sim":1.79},{"block":"Block 5","year":2022.648,"sim":0.91},{"block":"Block 5","year":2022.683,"sim":0.41},{"block":"Block 5","year":2022.701,"sim":0.06},{"block":"Block 5","year":2022.729,"sim":0.04},

{"block":"Block 5","year":2019.289,"obs":0.73},{"block":"Block 5","year":2019.301,"obs":0.64},{"block":"Block 5","year":2019.312,"obs":0.54},{"block":"Block 5","year":2019.324,"obs":0.41},{"block":"Block 5","year":2019.336,"obs":0.48},{"block":"Block 5","year":2019.347,"obs":0.54},{"block":"Block 5","year":2019.37,"obs":0.66},{"block":"Block 5","year":2019.382,"obs":1.04},{"block":"Block 5","year":2019.394,"obs":0.73},{"block":"Block 5","year":2019.417,"obs":2.7},{"block":"Block 5","year":2019.424,"obs":3.35},{"block":"Block 5","year":2019.435,"obs":6.92},{"block":"Block 5","year":2019.44,"obs":6.1},{"block":"Block 5","year":2019.444,"obs":5.82},{"block":"Block 5","year":2019.451,"obs":5.69},{"block":"Block 5","year":2019.463,"obs":5.42},{"block":"Block 5","year":2019.475,"obs":2.73},{"block":"Block 5","year":2019.486,"obs":0.79},{"block":"Block 5","year":2019.493,"obs":0.6},{"block":"Block 5","year":2019.498,"obs":0.73},{"block":"Block 5","year":2019.525,"obs":1.66},{"block":"Block 5","year":2019.551,"obs":3.75},{"block":"Block 5","year":2019.579,"obs":3.75},{"block":"Block 5","year":2019.556,"obs":4.7},{"block":"Block 5","year":2019.563,"obs":5.1},{"block":"Block 5","year":2019.572,"obs":5.16},{"block":"Block 5","year":2019.59,"obs":4.85},{"block":"Block 5","year":2019.567,"obs":5.08},{"block":"Block 5","year":2019.606,"obs":5.96},{"block":"Block 5","year":2019.653,"obs":0.69},{"block":"Block 5","year":2019.66,"obs":1.01},{"block":"Block 5","year":2019.667,"obs":1.41},{"block":"Block 5","year":2019.683,"obs":2.39},{"block":"Block 5","year":2019.694,"obs":2.39},{"block":"Block 5","year":2019.699,"obs":3.2},{"block":"Block 5","year":2019.752,"obs":2.6},
{"block":"Block 5","year":2020.319,"obs":0.81},{"block":"Block 5","year":2020.347,"obs":0.41},{"block":"Block 5","year":2020.389,"obs":0.79},{"block":"Block 5","year":2020.4,"obs":0.66},{"block":"Block 5","year":2020.435,"obs":3.17},{"block":"Block 5","year":2020.44,"obs":2.95},{"block":"Block 5","year":2020.447,"obs":3.79},{"block":"Block 5","year":2020.451,"obs":3.85},{"block":"Block 5","year":2020.458,"obs":4.54},{"block":"Block 5","year":2020.458,"obs":1.1},{"block":"Block 5","year":2020.47,"obs":0.79},{"block":"Block 5","year":2020.481,"obs":0.91},{"block":"Block 5","year":2020.493,"obs":0.73},{"block":"Block 5","year":2020.505,"obs":1.48},{"block":"Block 5","year":2020.528,"obs":2.83},{"block":"Block 5","year":2020.539,"obs":4.48},{"block":"Block 5","year":2020.581,"obs":6.46},{"block":"Block 5","year":2020.593,"obs":6.08},{"block":"Block 5","year":2020.632,"obs":0.54},{"block":"Block 5","year":2020.644,"obs":1.29},{"block":"Block 5","year":2020.655,"obs":1.79},{"block":"Block 5","year":2020.667,"obs":1.76},{"block":"Block 5","year":2020.69,"obs":2.7},{"block":"Block 5","year":2020.708,"obs":4.1},{"block":"Block 5","year":2020.718,"obs":2.33},{"block":"Block 5","year":2020.759,"obs":2.13},{"block":"Block 5","year":2020.752,"obs":1.85},
{"block":"Block 5","year":2021.363,"obs":0.79},{"block":"Block 5","year":2021.368,"obs":0.48},{"block":"Block 5","year":2021.421,"obs":2.45},{"block":"Block 5","year":2021.433,"obs":3.42},{"block":"Block 5","year":2021.437,"obs":3.36},{"block":"Block 5","year":2021.449,"obs":5.38},{"block":"Block 5","year":2021.468,"obs":1.04},{"block":"Block 5","year":2021.479,"obs":0.91},{"block":"Block 5","year":2021.486,"obs":0.79},{"block":"Block 5","year":2021.491,"obs":0.6},{"block":"Block 5","year":2021.498,"obs":0.48},{"block":"Block 5","year":2021.502,"obs":0.79},{"block":"Block 5","year":2021.507,"obs":1.29},{"block":"Block 5","year":2021.514,"obs":1.73},{"block":"Block 5","year":2021.521,"obs":2.17},{"block":"Block 5","year":2021.53,"obs":2.6},{"block":"Block 5","year":2021.537,"obs":2.73},{"block":"Block 5","year":2021.542,"obs":3.29},{"block":"Block 5","year":2021.553,"obs":3.36},{"block":"Block 5","year":2021.56,"obs":3.67},{"block":"Block 5","year":2021.567,"obs":3.86},{"block":"Block 5","year":2021.572,"obs":3.98},{"block":"Block 5","year":2021.56,"obs":4.26},{"block":"Block 5","year":2021.599,"obs":4.32},{"block":"Block 5","year":2021.555,"obs":5.57},{"block":"Block 5","year":2021.613,"obs":5.17},{"block":"Block 5","year":2021.669,"obs":1.1},{"block":"Block 5","year":2021.676,"obs":1.29},{"block":"Block 5","year":2021.694,"obs":1.57},{"block":"Block 5","year":2021.745,"obs":1.81},
{"block":"Block 5","year":2022.37,"obs":0.35},{"block":"Block 5","year":2022.394,"obs":0.29},{"block":"Block 5","year":2022.44,"obs":0.1},{"block":"Block 5","year":2022.463,"obs":0.29},{"block":"Block 5","year":2022.486,"obs":0.79},{"block":"Block 5","year":2022.486,"obs":1.04},{"block":"Block 5","year":2022.493,"obs":1.54},{"block":"Block 5","year":2022.498,"obs":1.98},{"block":"Block 5","year":2022.502,"obs":2.29},{"block":"Block 5","year":2022.509,"obs":3.39},{"block":"Block 5","year":2022.532,"obs":4.92},{"block":"Block 5","year":2022.537,"obs":5.57},{"block":"Block 5","year":2022.585,"obs":5.14},{"block":"Block 5","year":2022.606,"obs":4.03},{"block":"Block 5","year":2022.574,"obs":2.23},{"block":"Block 5","year":2022.613,"obs":2.04},{"block":"Block 5","year":2022.625,"obs":1.66},{"block":"Block 5","year":2022.636,"obs":0.81},{"block":"Block 5","year":2022.648,"obs":0.64},{"block":"Block 5","year":2022.66,"obs":0.48},{"block":"Block 5","year":2022.671,"obs":0.41},{"block":"Block 5","year":2022.694,"obs":0.66},{"block":"Block 5","year":2022.752,"obs":0.44},{"block":"Block 5","year":2022.775,"obs":0.44},

{"block":"Block 4","year":2019.301,"sim":0.05},{"block":"Block 4","year":2019.405,"sim":0.10},{"block":"Block 4","year":2019.451,"sim":0.83},{"block":"Block 4","year":2019.491,"sim":1.45},{"block":"Block 4","year":2019.514,"sim":2.58},{"block":"Block 4","year":2019.532,"sim":3.45},{"block":"Block 4","year":2019.551,"sim":3.68},{"block":"Block 4","year":2019.579,"sim":3.39},{"block":"Block 4","year":2019.606,"sim":3.08},{"block":"Block 4","year":2019.630,"sim":2.64},{"block":"Block 4","year":2019.671,"sim":2.52},{"block":"Block 4","year":2019.706,"sim":2.68},{"block":"Block 4","year":2019.729,"sim":2.70},{"block":"Block 4","year":2019.736,"sim":0.18},{"block":"Block 4","year":2019.764,"sim":0.35},{"block":"Block 4","year":2019.810,"sim":0.33},{"block":"Block 4","year":2019.833,"sim":0.18},{"block":"Block 4","year":2019.926,"sim":0.14},{"block":"Block 4","year":2020.157,"sim":0.14},{"block":"Block 4","year":2020.319,"sim":0.16},{"block":"Block 4","year":2020.389,"sim":0.33},{"block":"Block 4","year":2020.435,"sim":0.83},{"block":"Block 4","year":2020.463,"sim":1.64},{"block":"Block 4","year":2020.472,"sim":0.08},{"block":"Block 4","year":2020.505,"sim":0.95},{"block":"Block 4","year":2020.539,"sim":2.33},{"block":"Block 4","year":2020.574,"sim":3.70},{"block":"Block 4","year":2020.597,"sim":4.58},{"block":"Block 4","year":2020.620,"sim":5.36},{"block":"Block 4","year":2020.625,"sim":0.33},{"block":"Block 4","year":2020.648,"sim":1.83},{"block":"Block 4","year":2020.678,"sim":2.70},{"block":"Block 4","year":2020.713,"sim":3.08},{"block":"Block 4","year":2020.759,"sim":3.27},{"block":"Block 4","year":2020.794,"sim":3.08},{"block":"Block 4","year":2020.817,"sim":2.45},{"block":"Block 4","year":2020.852,"sim":1.95},{"block":"Block 4","year":2020.887,"sim":1.51},{"block":"Block 4","year":2020.910,"sim":0.83},{"block":"Block 4","year":2020.933,"sim":0.33},{"block":"Block 4","year":2020.956,"sim":0.14},{"block":"Block 4","year":2021.109,"sim":0.14},{"block":"Block 4","year":2021.248,"sim":0.14},{"block":"Block 4","year":2021.340,"sim":0.39},{"block":"Block 4","year":2021.387,"sim":0.83},{"block":"Block 4","year":2021.421,"sim":1.58},{"block":"Block 4","year":2021.456,"sim":2.70},{"block":"Block 4","year":2021.484,"sim":3.52},{"block":"Block 4","year":2021.495,"sim":0.23},{"block":"Block 4","year":2021.514,"sim":1.20},{"block":"Block 4","year":2021.549,"sim":2.70},{"block":"Block 4","year":2021.583,"sim":4.08},{"block":"Block 4","year":2021.606,"sim":5.58},{"block":"Block 4","year":2021.623,"sim":6.15},{"block":"Block 4","year":2021.627,"sim":0.39},{"block":"Block 4","year":2021.653,"sim":0.95},{"block":"Block 4","year":2021.676,"sim":2.45},{"block":"Block 4","year":2021.699,"sim":2.95},{"block":"Block 4","year":2021.722,"sim":3.14},{"block":"Block 4","year":2021.734,"sim":0.05},{"block":"Block 4","year":2022.359,"sim":0.14},{"block":"Block 4","year":2022.405,"sim":0.26},{"block":"Block 4","year":2022.451,"sim":0.70},{"block":"Block 4","year":2022.486,"sim":1.45},{"block":"Block 4","year":2022.521,"sim":2.70},{"block":"Block 4","year":2022.549,"sim":3.14},{"block":"Block 4","year":2022.579,"sim":2.58},{"block":"Block 4","year":2022.613,"sim":1.70},{"block":"Block 4","year":2022.648,"sim":0.83},{"block":"Block 4","year":2022.683,"sim":0.26},{"block":"Block 4","year":2022.701,"sim":0.08},{"block":"Block 4","year":2022.729,"sim":0.05},

{"block":"Block 4","year":2019.093,"obs":0.08},{"block":"Block 4","year":2019.289,"obs":0.14},{"block":"Block 4","year":2019.312,"obs":0.14},{"block":"Block 4","year":2019.336,"obs":0.14},{"block":"Block 4","year":2019.359,"obs":0.1},{"block":"Block 4","year":2019.382,"obs":0.14},{"block":"Block 4","year":2019.417,"obs":0.2},{"block":"Block 4","year":2019.44,"obs":0.18},{"block":"Block 4","year":2019.463,"obs":0.14},{"block":"Block 4","year":2019.428,"obs":0.26},{"block":"Block 4","year":2019.475,"obs":0.58},{"block":"Block 4","year":2019.481,"obs":0.7},{"block":"Block 4","year":2019.486,"obs":0.85},{"block":"Block 4","year":2019.493,"obs":0.95},{"block":"Block 4","year":2019.498,"obs":1.08},{"block":"Block 4","year":2019.525,"obs":2.39},{"block":"Block 4","year":2019.551,"obs":5.52},{"block":"Block 4","year":2019.556,"obs":5.77},{"block":"Block 4","year":2019.563,"obs":5.96},{"block":"Block 4","year":2019.567,"obs":6.27},{"block":"Block 4","year":2019.574,"obs":6.46},{"block":"Block 4","year":2019.579,"obs":5.04},{"block":"Block 4","year":2019.59,"obs":6.48},{"block":"Block 4","year":2019.606,"obs":7.43},{"block":"Block 4","year":2019.648,"obs":5.83},{"block":"Block 4","year":2019.66,"obs":5.0},{"block":"Block 4","year":2019.671,"obs":5.1},{"block":"Block 4","year":2019.671,"obs":4.7},{"block":"Block 4","year":2019.69,"obs":2.7},{"block":"Block 4","year":2019.725,"obs":1.93},{"block":"Block 4","year":2019.748,"obs":0.7},
{"block":"Block 4","year":2020.389,"obs":0.33},{"block":"Block 4","year":2020.435,"obs":0.51},{"block":"Block 4","year":2020.458,"obs":0.83},{"block":"Block 4","year":2020.481,"obs":0.7},{"block":"Block 4","year":2020.47,"obs":1.14},{"block":"Block 4","year":2020.493,"obs":0.76},{"block":"Block 4","year":2020.505,"obs":0.73},{"block":"Block 4","year":2020.47,"obs":0.58},{"block":"Block 4","year":2020.539,"obs":2.85},{"block":"Block 4","year":2020.567,"obs":5.62},{"block":"Block 4","year":2020.593,"obs":4.89},{"block":"Block 4","year":2020.569,"obs":1.74},{"block":"Block 4","year":2020.62,"obs":1.01},{"block":"Block 4","year":2020.632,"obs":0.76},{"block":"Block 4","year":2020.644,"obs":0.58},{"block":"Block 4","year":2020.667,"obs":0.83},{"block":"Block 4","year":2020.655,"obs":0.45},{"block":"Block 4","year":2020.706,"obs":1.7},{"block":"Block 4","year":2020.69,"obs":1.33},{"block":"Block 4","year":2020.748,"obs":1.39},{"block":"Block 4","year":2020.759,"obs":1.2},{"block":"Block 4","year":2020.725,"obs":1.45},{"block":"Block 4","year":2020.829,"obs":1.45},{"block":"Block 4","year":2020.84,"obs":0.26},
{"block":"Block 4","year":2021.359,"obs":0.49},{"block":"Block 4","year":2021.417,"obs":2.01},{"block":"Block 4","year":2021.428,"obs":2.87},{"block":"Block 4","year":2021.44,"obs":4.58},{"block":"Block 4","year":2021.472,"obs":5.67},{"block":"Block 4","year":2021.463,"obs":4.52},{"block":"Block 4","year":2021.486,"obs":4.36},{"block":"Block 4","year":2021.484,"obs":3.62},{"block":"Block 4","year":2021.491,"obs":1.08},{"block":"Block 4","year":2021.498,"obs":0.83},{"block":"Block 4","year":2021.502,"obs":0.64},{"block":"Block 4","year":2021.507,"obs":0.89},{"block":"Block 4","year":2021.514,"obs":1.14},{"block":"Block 4","year":2021.521,"obs":1.39},{"block":"Block 4","year":2021.525,"obs":1.26},{"block":"Block 4","year":2021.53,"obs":1.64},{"block":"Block 4","year":2021.537,"obs":2.01},{"block":"Block 4","year":2021.549,"obs":2.01},{"block":"Block 4","year":2021.553,"obs":2.87},{"block":"Block 4","year":2021.567,"obs":3.33},{"block":"Block 4","year":2021.567,"obs":4.08},{"block":"Block 4","year":2021.576,"obs":4.27},{"block":"Block 4","year":2021.553,"obs":5.8},{"block":"Block 4","year":2021.599,"obs":5.92},{"block":"Block 4","year":2021.611,"obs":6.7},{"block":"Block 4","year":2021.625,"obs":2.87},{"block":"Block 4","year":2021.653,"obs":0.51},{"block":"Block 4","year":2021.664,"obs":0.89},{"block":"Block 4","year":2021.676,"obs":1.18},{"block":"Block 4","year":2021.687,"obs":1.45},{"block":"Block 4","year":2021.745,"obs":2.2},
{"block":"Block 4","year":2022.363,"obs":0.39},{"block":"Block 4","year":2022.382,"obs":0.3},{"block":"Block 4","year":2022.405,"obs":0.2},{"block":"Block 4","year":2022.428,"obs":0.1},{"block":"Block 4","year":2022.456,"obs":0.39},{"block":"Block 4","year":2022.467,"obs":0.51},{"block":"Block 4","year":2022.474,"obs":0.73},{"block":"Block 4","year":2022.486,"obs":1.01},{"block":"Block 4","year":2022.493,"obs":1.23},{"block":"Block 4","year":2022.498,"obs":1.51},{"block":"Block 4","year":2022.505,"obs":2.2},{"block":"Block 4","year":2022.528,"obs":3.23},{"block":"Block 4","year":2022.532,"obs":3.52},{"block":"Block 4","year":2022.56,"obs":2.64},{"block":"Block 4","year":2022.583,"obs":4.46},{"block":"Block 4","year":2022.606,"obs":3.48},{"block":"Block 4","year":2022.613,"obs":1.93},{"block":"Block 4","year":2022.636,"obs":1.08},{"block":"Block 4","year":2022.648,"obs":0.76},{"block":"Block 4","year":2022.66,"obs":0.68},{"block":"Block 4","year":2022.69,"obs":0.43},{"block":"Block 4","year":2022.729,"obs":0.14},{"block":"Block 4","year":2022.752,"obs":0.33},{"block":"Block 4","year":2022.775,"obs":0.26},{"block":"Block 4","year":2022.799,"obs":0.1},

{"block":"Block 6","year":2019.0,"sim":0.14},{"block":"Block 6","year":2019.278,"sim":0.14},{"block":"Block 6","year":2019.324,"sim":0.33},{"block":"Block 6","year":2019.382,"sim":0.70},{"block":"Block 6","year":2019.428,"sim":1.45},{"block":"Block 6","year":2019.456,"sim":2.45},{"block":"Block 6","year":2019.475,"sim":3.02},{"block":"Block 6","year":2019.481,"sim":0.20},{"block":"Block 6","year":2019.498,"sim":0.83},{"block":"Block 6","year":2019.528,"sim":2.08},{"block":"Block 6","year":2019.551,"sim":3.33},{"block":"Block 6","year":2019.579,"sim":4.21},{"block":"Block 6","year":2019.606,"sim":4.77},{"block":"Block 6","year":2019.630,"sim":5.02},{"block":"Block 6","year":2019.637,"sim":0.39},{"block":"Block 6","year":2019.660,"sim":1.33},{"block":"Block 6","year":2019.683,"sim":1.89},{"block":"Block 6","year":2019.718,"sim":2.01},{"block":"Block 6","year":2019.764,"sim":1.95},{"block":"Block 6","year":2019.799,"sim":1.83},{"block":"Block 6","year":2019.822,"sim":1.45},{"block":"Block 6","year":2019.845,"sim":0.33},{"block":"Block 6","year":2019.861,"sim":0.14},{"block":"Block 6","year":2020.042,"sim":0.14},{"block":"Block 6","year":2020.296,"sim":0.14},{"block":"Block 6","year":2020.343,"sim":0.26},{"block":"Block 6","year":2020.400,"sim":0.70},{"block":"Block 6","year":2020.435,"sim":1.33},{"block":"Block 6","year":2020.458,"sim":1.89},{"block":"Block 6","year":2020.465,"sim":0.14},{"block":"Block 6","year":2020.493,"sim":0.70},{"block":"Block 6","year":2020.528,"sim":1.70},{"block":"Block 6","year":2020.563,"sim":2.70},{"block":"Block 6","year":2020.597,"sim":3.70},{"block":"Block 6","year":2020.613,"sim":4.14},{"block":"Block 6","year":2020.620,"sim":0.45},{"block":"Block 6","year":2020.648,"sim":1.83},{"block":"Block 6","year":2020.678,"sim":2.95},{"block":"Block 6","year":2020.713,"sim":3.39},{"block":"Block 6","year":2020.771,"sim":3.48},{"block":"Block 6","year":2020.806,"sim":3.33},{"block":"Block 6","year":2020.829,"sim":2.58},{"block":"Block 6","year":2020.863,"sim":2.08},{"block":"Block 6","year":2020.887,"sim":1.70},{"block":"Block 6","year":2020.903,"sim":0.95},{"block":"Block 6","year":2020.926,"sim":0.33},{"block":"Block 6","year":2020.956,"sim":0.14},{"block":"Block 6","year":2021.109,"sim":0.14},{"block":"Block 6","year":2021.271,"sim":0.14},{"block":"Block 6","year":2021.340,"sim":0.39},{"block":"Block 6","year":2021.398,"sim":1.08},{"block":"Block 6","year":2021.433,"sim":2.08},{"block":"Block 6","year":2021.456,"sim":2.70},{"block":"Block 6","year":2021.475,"sim":3.02},{"block":"Block 6","year":2021.479,"sim":0.20},{"block":"Block 6","year":2021.502,"sim":1.20},{"block":"Block 6","year":2021.537,"sim":2.33},{"block":"Block 6","year":2021.572,"sim":3.20},{"block":"Block 6","year":2021.599,"sim":3.83},{"block":"Block 6","year":2021.630,"sim":4.58},{"block":"Block 6","year":2021.634,"sim":0.70},{"block":"Block 6","year":2021.664,"sim":0.95},{"block":"Block 6","year":2021.687,"sim":1.51},{"block":"Block 6","year":2021.715,"sim":2.45},{"block":"Block 6","year":2021.734,"sim":2.95},{"block":"Block 6","year":2021.738,"sim":0.05},{"block":"Block 6","year":2022.405,"sim":0.14},{"block":"Block 6","year":2022.451,"sim":0.26},{"block":"Block 6","year":2022.486,"sim":1.33},{"block":"Block 6","year":2022.516,"sim":2.33},{"block":"Block 6","year":2022.539,"sim":2.95},{"block":"Block 6","year":2022.567,"sim":2.45},{"block":"Block 6","year":2022.602,"sim":1.83},{"block":"Block 6","year":2022.636,"sim":1.08},{"block":"Block 6","year":2022.683,"sim":0.45},{"block":"Block 6","year":2022.701,"sim":0.10},{"block":"Block 6","year":2022.729,"sim":0.08},

{"block":"Block 6","year":2019.097,"obs":0.1},{"block":"Block 6","year":2019.296,"obs":0.7},{"block":"Block 6","year":2019.301,"obs":0.76},{"block":"Block 6","year":2019.312,"obs":0.45},{"block":"Block 6","year":2019.324,"obs":0.51},{"block":"Block 6","year":2019.347,"obs":0.58},{"block":"Block 6","year":2019.37,"obs":0.51},{"block":"Block 6","year":2019.382,"obs":0.76},{"block":"Block 6","year":2019.377,"obs":0.64},{"block":"Block 6","year":2019.417,"obs":2.14},{"block":"Block 6","year":2019.424,"obs":2.8},{"block":"Block 6","year":2019.435,"obs":5.87},{"block":"Block 6","year":2019.44,"obs":5.14},{"block":"Block 6","year":2019.451,"obs":5.35},{"block":"Block 6","year":2019.458,"obs":5.45},{"block":"Block 6","year":2019.481,"obs":2.2},{"block":"Block 6","year":2019.486,"obs":0.83},{"block":"Block 6","year":2019.493,"obs":0.64},{"block":"Block 6","year":2019.498,"obs":0.73},{"block":"Block 6","year":2019.528,"obs":1.58},{"block":"Block 6","year":2019.556,"obs":4.21},{"block":"Block 6","year":2019.567,"obs":4.46},{"block":"Block 6","year":2019.56,"obs":4.71},{"block":"Block 6","year":2019.574,"obs":4.8},{"block":"Block 6","year":2019.583,"obs":4.61},{"block":"Block 6","year":2019.579,"obs":3.48},{"block":"Block 6","year":2019.606,"obs":6.31},{"block":"Block 6","year":2019.653,"obs":0.83},{"block":"Block 6","year":2019.66,"obs":1.2},{"block":"Block 6","year":2019.667,"obs":1.6},{"block":"Block 6","year":2019.678,"obs":2.5},{"block":"Block 6","year":2019.694,"obs":2.39},{"block":"Block 6","year":2019.701,"obs":4.52},{"block":"Block 6","year":2019.757,"obs":2.6},{"block":"Block 6","year":2019.759,"obs":2.67},
{"block":"Block 6","year":2020.35,"obs":0.49},{"block":"Block 6","year":2020.389,"obs":0.64},{"block":"Block 6","year":2020.4,"obs":0.51},{"block":"Block 6","year":2020.458,"obs":0.7},{"block":"Block 6","year":2020.463,"obs":0.89},{"block":"Block 6","year":2020.47,"obs":0.76},{"block":"Block 6","year":2020.481,"obs":0.83},{"block":"Block 6","year":2020.493,"obs":0.95},{"block":"Block 6","year":2020.505,"obs":1.39},{"block":"Block 6","year":2020.447,"obs":1.7},{"block":"Block 6","year":2020.454,"obs":1.33},{"block":"Block 6","year":2020.458,"obs":1.08},{"block":"Block 6","year":2020.447,"obs":1.26},{"block":"Block 6","year":2020.44,"obs":1.5},{"block":"Block 6","year":2020.523,"obs":3.29},{"block":"Block 6","year":2020.544,"obs":4.0},{"block":"Block 6","year":2020.581,"obs":5.56},{"block":"Block 6","year":2020.593,"obs":5.28},{"block":"Block 6","year":2020.632,"obs":0.64},{"block":"Block 6","year":2020.644,"obs":0.95},{"block":"Block 6","year":2020.655,"obs":1.39},{"block":"Block 6","year":2020.667,"obs":1.45},{"block":"Block 6","year":2020.69,"obs":2.27},{"block":"Block 6","year":2020.701,"obs":2.52},{"block":"Block 6","year":2020.72,"obs":1.95},{"block":"Block 6","year":2020.755,"obs":1.89},{"block":"Block 6","year":2020.764,"obs":1.85},{"block":"Block 6","year":2020.833,"obs":1.58},{"block":"Block 6","year":2020.84,"obs":0.33},
{"block":"Block 6","year":2021.363,"obs":0.51},{"block":"Block 6","year":2021.368,"obs":0.45},{"block":"Block 6","year":2021.421,"obs":2.12},{"block":"Block 6","year":2021.433,"obs":3.0},{"block":"Block 6","year":2021.437,"obs":3.07},{"block":"Block 6","year":2021.449,"obs":4.96},{"block":"Block 6","year":2021.468,"obs":1.08},{"block":"Block 6","year":2021.474,"obs":1.2},{"block":"Block 6","year":2021.479,"obs":0.89},{"block":"Block 6","year":2021.486,"obs":0.76},{"block":"Block 6","year":2021.491,"obs":0.64},{"block":"Block 6","year":2021.498,"obs":0.58},{"block":"Block 6","year":2021.507,"obs":1.2},{"block":"Block 6","year":2021.514,"obs":1.45},{"block":"Block 6","year":2021.521,"obs":1.83},{"block":"Block 6","year":2021.525,"obs":2.2},{"block":"Block 6","year":2021.53,"obs":2.39},{"block":"Block 6","year":2021.537,"obs":2.52},{"block":"Block 6","year":2021.544,"obs":2.64},{"block":"Block 6","year":2021.549,"obs":3.14},{"block":"Block 6","year":2021.553,"obs":3.77},{"block":"Block 6","year":2021.567,"obs":3.87},{"block":"Block 6","year":2021.572,"obs":4.5},{"block":"Block 6","year":2021.578,"obs":4.46},{"block":"Block 6","year":2021.599,"obs":4.86},{"block":"Block 6","year":2021.611,"obs":5.21},{"block":"Block 6","year":2021.555,"obs":6.93},{"block":"Block 6","year":2021.63,"obs":1.83},{"block":"Block 6","year":2021.669,"obs":0.95},{"block":"Block 6","year":2021.676,"obs":1.1},{"block":"Block 6","year":2021.694,"obs":1.43},{"block":"Block 6","year":2021.745,"obs":1.89},
{"block":"Block 6","year":2022.37,"obs":0.48},{"block":"Block 6","year":2022.382,"obs":0.33},{"block":"Block 6","year":2022.405,"obs":0.2},{"block":"Block 6","year":2022.428,"obs":0.1},{"block":"Block 6","year":2022.456,"obs":0.58},{"block":"Block 6","year":2022.474,"obs":0.76},{"block":"Block 6","year":2022.486,"obs":0.95},{"block":"Block 6","year":2022.493,"obs":1.1},{"block":"Block 6","year":2022.498,"obs":1.58},{"block":"Block 6","year":2022.505,"obs":1.64},{"block":"Block 6","year":2022.509,"obs":3.3},{"block":"Block 6","year":2022.532,"obs":4.98},{"block":"Block 6","year":2022.539,"obs":5.52},{"block":"Block 6","year":2022.585,"obs":5.18},{"block":"Block 6","year":2022.606,"obs":3.93},{"block":"Block 6","year":2022.562,"obs":3.08},{"block":"Block 6","year":2022.574,"obs":2.23},{"block":"Block 6","year":2022.613,"obs":1.95},{"block":"Block 6","year":2022.636,"obs":0.79},{"block":"Block 6","year":2022.648,"obs":0.64},{"block":"Block 6","year":2022.66,"obs":0.45},{"block":"Block 6","year":2022.694,"obs":0.83},{"block":"Block 6","year":2022.752,"obs":0.6},{"block":"Block 6","year":2022.775,"obs":0.64},{"block":"Block 6","year":2022.56,"obs":7.43}
]},
"facet":{"field":"block","type":"nominal","sort":["Block 1","Block 3","Block 2","Block 5","Block 4","Block 6"],
  "header":{"title":null,"labels":false,"labelFontSize":0.01,"labelPadding":0,"labelColor":"transparent","labelExpr":"''"}},
"columns":2,
"spacing":{"row":44,"column":46},
"spec":{
 "width":576,"height":259,
 "layer":[
  {"transform":[{"filter":"datum.kind == 'band'"}],
   "mark":{"type":"rect","opacity":0.22},
   "encoding":{
    "x":{"field":"start","type":"quantitative","title":null},
    "x2":{"field":"end"},
    "y":{"datum":7.26,"type":"quantitative","title":null},
    "y2":{"datum":8.225},
    "fill":{"condition":{"test":"datum.crop == 'Grass'","value":"#228b22"},"value":"#d2b48c"}
   }},
  {"transform":[{"filter":"datum.kind == 'band'"},{"calculate":"(datum.start + datum.end) / 2","as":"mid"}],
   "mark":{"type":"text","font":"Liberation Sans","fontSize":26,"color":"#1a1a1a","baseline":"middle","align":"center"},
   "encoding":{
    "x":{"field":"mid","type":"quantitative","title":null},
    "y":{"datum":7.74,"type":"quantitative","title":null},
    "text":{"field":"crop"}
   }},
  {"transform":[{"filter":"datum.kind == 'strip'"}],
   "mark":{"type":"rect","color":"#b3b3b3"},
   "encoding":{
    "x":{"datum":2019,"type":"quantitative","title":null},
    "x2":{"datum":2023},
    "y":{"datum":8.225,"type":"quantitative","title":null},
    "y2":{"datum":9.728}
   }},
  {"transform":[{"filter":"datum.kind == 'strip'"}],
   "mark":{"type":"text","font":"Liberation Sans","fontSize":26,"color":"#ffffff","baseline":"middle","align":"center"},
   "encoding":{
    "x":{"datum":2021,"type":"quantitative","title":null},
    "y":{"datum":8.98,"type":"quantitative","title":null},
    "text":{"field":"block"}
   }},
  {"transform":[{"filter":"isValid(datum.sim)"}],
   "mark":{"type":"line","strokeWidth":2.8,"strokeJoin":"round"},
   "encoding":{
    "x":{"field":"year","type":"quantitative","title":null,
      "scale":{"domain":[2019,2023],"nice":false,"zero":false},
      "axis":{"grid":true,"values":[2019,2019.5,2020,2020.5,2021,2021.5,2022,2022.5,2023],
        "labelExpr":"datum.value % 1 == 0 ? format(datum.value, 'd') : ''",
        "labelFlush":false,"labelOverlap":false,
        "tickOpacity":{"condition":{"test":"datum.value % 1 != 0","value":0},"value":1}}},
    "y":{"field":"sim","type":"quantitative","title":null,
      "scale":{"domain":[0,9.728],"nice":false,"zero":true},
      "axis":{"grid":true,"values":[0,1,2,3,4,5,6,7,8],
        "labelExpr":"datum.value % 2 == 0 ? format(datum.value, 'd') : ''",
        "labelOverlap":false,
        "tickOpacity":{"condition":{"test":"datum.value % 2 != 0","value":0},"value":1}}},
    "stroke":{"datum":"Simulation","type":"nominal",
      "scale":{"domain":["Simulation"],"range":["#333333"]},
      "legend":{"title":"Type","orient":"none","legendX":397,"legendY":965,"direction":"horizontal",
        "titleOrient":"left","titleFontSize":25,"titleFontWeight":"normal","titleColor":"#000000","titleFont":"Liberation Sans","titlePadding":13,
        "labelFontSize":23,"labelColor":"#000000","labelFont":"Liberation Sans","labelOffset":13,
        "symbolType":"stroke","symbolStrokeWidth":3,"symbolSize":484,"symbolStrokeColor":"#333333"}}
   }},
  {"transform":[{"filter":"isValid(datum.obs)"}],
   "mark":{"type":"point","filled":true,"size":72,"opacity":1},
   "encoding":{
    "x":{"field":"year","type":"quantitative","title":null},
    "y":{"field":"obs","type":"quantitative","title":null},
    "color":{"datum":"Measurement","type":"nominal",
      "scale":{"domain":["Measurement"],"range":["#8b1a1a"]},
      "legend":{"title":null,"orient":"none","legendX":623,"legendY":965,"direction":"horizontal",
        "labelFontSize":23,"labelColor":"#000000","labelFont":"Liberation Sans","labelOffset":12,
        "symbolType":"circle","symbolSize":235,"symbolOpacity":1}}
   }}
 ]
},
"config":{
 "font":"Liberation Sans",
 "header":{"labels":false,"title":null},
 "headerFacet":{"labels":false,"title":null,"labelFontSize":0.01,"labelPadding":0},
 "view":{"stroke":"#b3b3b3","strokeWidth":1.2},
 "axis":{"grid":true,"domain":false,"labelFontSize":19,"labelColor":"#4d4d4d","labelFont":"Liberation Sans","tickColor":"#b3b3b3","tickSize":4,"tickWidth":1.2,"gridColor":"#dedede","gridWidth":1.1,"labelPadding":3}
}
}
